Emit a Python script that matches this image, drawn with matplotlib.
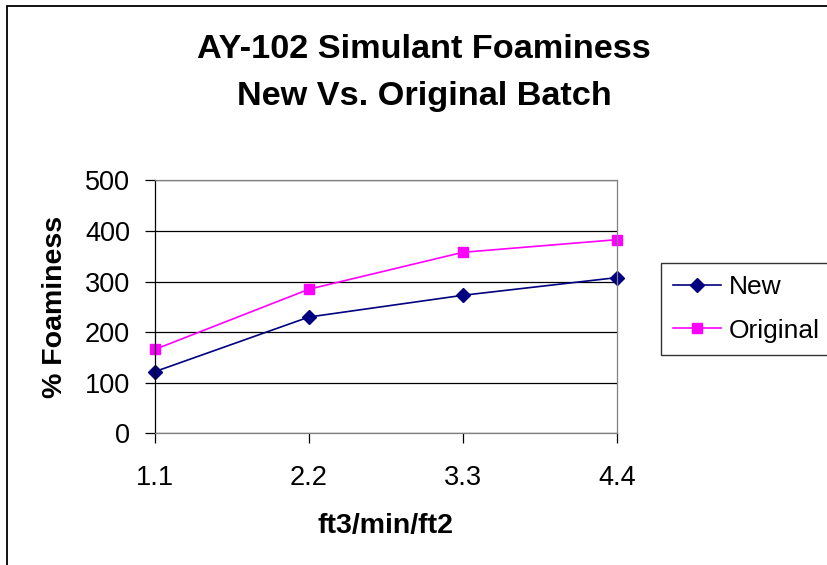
import matplotlib
matplotlib.use("Agg")
import matplotlib.pyplot as plt
from matplotlib.patches import Rectangle

plt.rcParams['font.family'] = ['Liberation Sans', 'DejaVu Sans']

flow_rates = [1.1, 2.2, 3.3, 4.4]
tick_labels = ["1.1", "2.2", "3.3", "4.4"]
new_batch = [122, 230, 273, 308]
original_batch = [166, 285, 358, 383]

W, H = 828, 565
fig = plt.figure(figsize=(W / 100, H / 100), dpi=100)

# outer chart frame (runs past the right and bottom edges)
fig.patches.append(Rectangle((7.5 / W, -0.05), 1.1, 1 - 6 / H + 0.05,
                             transform=fig.transFigure, fill=False,
                             edgecolor='black', linewidth=1.3))

ax = fig.add_axes([155 / W, 1 - 433.3 / H, (617 - 155) / W, (433.3 - 180.5) / H])

ax.plot(flow_rates, new_batch, color='#000080', marker='D', markersize=7.5,
        linewidth=1.2, label='New')
ax.plot(flow_rates, original_batch, color='#FF00FF', marker='s', markersize=7.5,
        linewidth=1.2, label='Original')

ax.set_xlim(1.1, 4.4)
ax.set_ylim(0, 500)
ax.set_xticks(flow_rates)
ax.set_xticklabels(tick_labels)
ax.set_yticks([0, 100, 200, 300, 400, 500])
ax.yaxis.grid(True, color='black', linewidth=0.9)
ax.set_axisbelow(True)
for m in ax.lines:
    m.set_clip_on(False)

ax.spines['left'].set_color('black')
ax.spines['bottom'].set_color('#808080')
ax.spines['top'].set_color('#808080')
ax.spines['right'].set_color('#808080')
for s in ax.spines.values():
    s.set_linewidth(0.9)

ax.tick_params(axis='both', direction='out', length=7, width=0.9,
               labelsize=19.5, color='black')
ax.tick_params(axis='y', pad=11)
ax.tick_params(axis='x', pad=16)

ax.set_ylabel('% Foaminess', fontsize=20.5, fontweight='bold', labelpad=12)
ax.set_xlabel('ft3/min/ft2', fontsize=20.5, fontweight='bold', labelpad=16)

fig.text(424 / W, 1 - 49 / H, 'AY-102 Simulant Foaminess', ha='center', va='center',
         fontsize=24.7, fontweight='bold')
fig.text(424 / W, 1 - 96 / H, 'New Vs. Original Batch', ha='center', va='center',
         fontsize=24.7, fontweight='bold')

leg = fig.legend(loc='upper left', bbox_to_anchor=(661 / W, 1 - 263 / H),
                 fontsize=19, frameon=True, fancybox=False, edgecolor='black',
                 handlelength=1.82, handletextpad=0.3, borderpad=0.45,
                 labelspacing=0.75, borderaxespad=0)
leg.get_frame().set_linewidth(1.0)

fig.savefig('out.png', dpi=100)
